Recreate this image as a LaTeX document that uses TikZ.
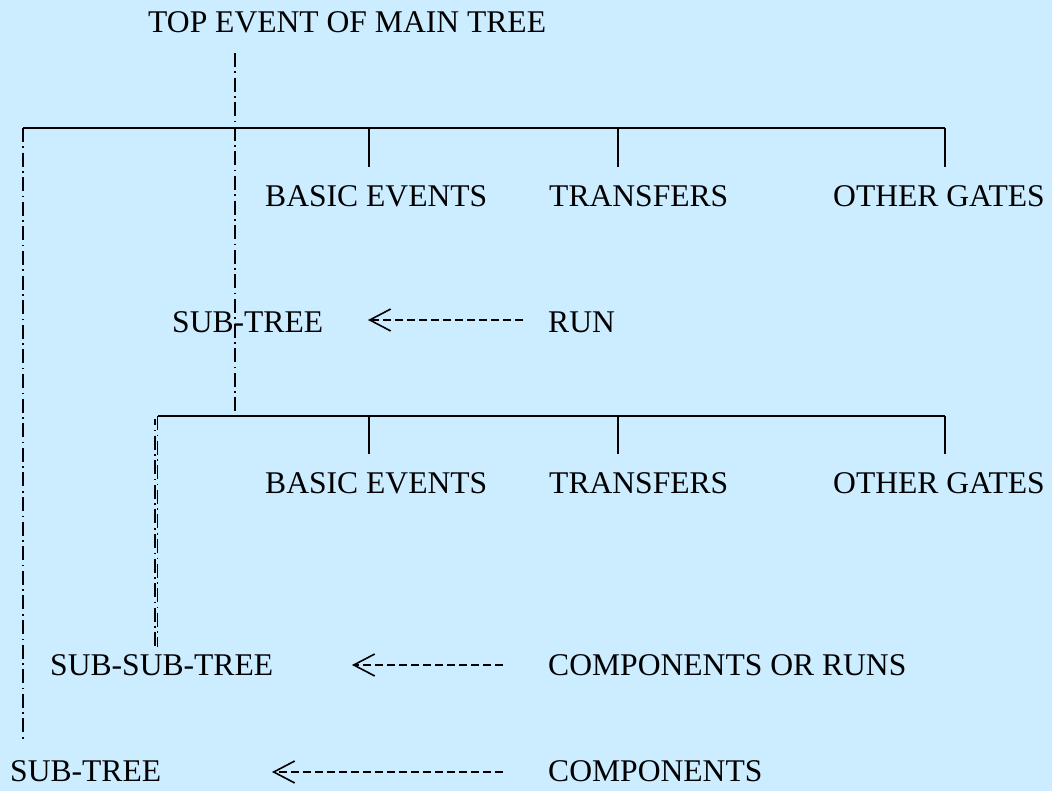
\documentclass[tikz,border=0pt]{standalone}
\usepackage{fontspec}
\setmainfont{Liberation Serif}
\usetikzlibrary{arrows.meta}
\definecolor{paper}{RGB}{204,236,255}
\begin{document}
\begin{tikzpicture}[x=1pt,y=-1pt,
  lbl/.style={anchor=west,inner sep=0pt,text depth=0pt,font=\fontsize{31.6}{36}\selectfont},
  bar/.style={line width=2pt},
  chain/.style={line width=1.7pt,dash pattern=on 14pt off 4.5pt on 1.6pt off 4.5pt},
  feed/.style={line width=1.6pt,dash pattern=on 8pt off 4pt,
    -{Straight Barb[length=21pt,width=22pt]}}]
% canvas
\fill[paper] (0,0) rectangle (1052,791);
\useasboundingbox (0,0) rectangle (1052,791);

% labels
\node[lbl] (top) at (148,22) {TOP EVENT OF MAIN TREE};
\node[lbl] (be1) at (265,196) {BASIC EVENTS};
\node[lbl] (tr1) at (549,196) {TRANSFERS};
\node[lbl] (og1) at (833,196) {OTHER GATES};
\node[lbl] (sub) at (172,322) {SUB-TREE};
\node[lbl] (run) at (548,322) {RUN};
\node[lbl] (be2) at (265,483) {BASIC EVENTS};
\node[lbl] (tr2) at (549,483) {TRANSFERS};
\node[lbl] (og2) at (833,483) {OTHER GATES};
\node[lbl] (ssub) at (50,665) {SUB-SUB-TREE};
\node[lbl] (cor) at (548,665) {COMPONENTS OR RUNS};
\node[lbl] (lsub) at (10,771) {SUB-TREE};
\node[lbl] (comp) at (548,771) {COMPONENTS};

% junction points of the gate bars
\coordinate (g1L) at (23,128);
\coordinate (g1R) at (945,128);
\coordinate (g2L) at (157.5,416);
\coordinate (g2R) at (945,416);
\coordinate (trunkTop) at (235,53);
\coordinate (trunkBot) at (235,416);
\coordinate (leftEnd) at (23,742);
\coordinate (ssEnd) at (157.5,647);

% main gate bar and its branches
\draw[bar] (g1L) -- (g1R);
\draw[bar] (369,128) -- (369,167);
\draw[bar] (618,128) -- (618,167);
\draw[bar] (g1R) -- (945,167);

% sub-tree gate bar and its branches
\draw[bar] (g2L) -- (g2R);
\draw[bar] (369,416) -- (369,454);
\draw[bar] (618,416) -- (618,454);
\draw[bar] (g2R) -- (945,454);

% transfer chains
\draw[chain] (trunkTop) -- (trunkBot);
\draw[chain] (g1L) -- (leftEnd);
\draw[chain] (g2L) -- (ssEnd);
\draw[chain,dash phase=8pt] (155,419) -- (155,647);

% feeds into the sub-trees
\coordinate (tipA) at (368,320);
\coordinate (tipB) at (352,665);
\coordinate (tipC) at (272,772);
\draw[feed,shorten <=25pt] (run.west |- tipA) -- (tipA);
\draw[feed,shorten <=45pt] (cor.west |- tipB) -- (tipB);
\draw[feed,shorten <=45pt] (comp.west |- tipC) -- (tipC);
\end{tikzpicture}
\end{document}
